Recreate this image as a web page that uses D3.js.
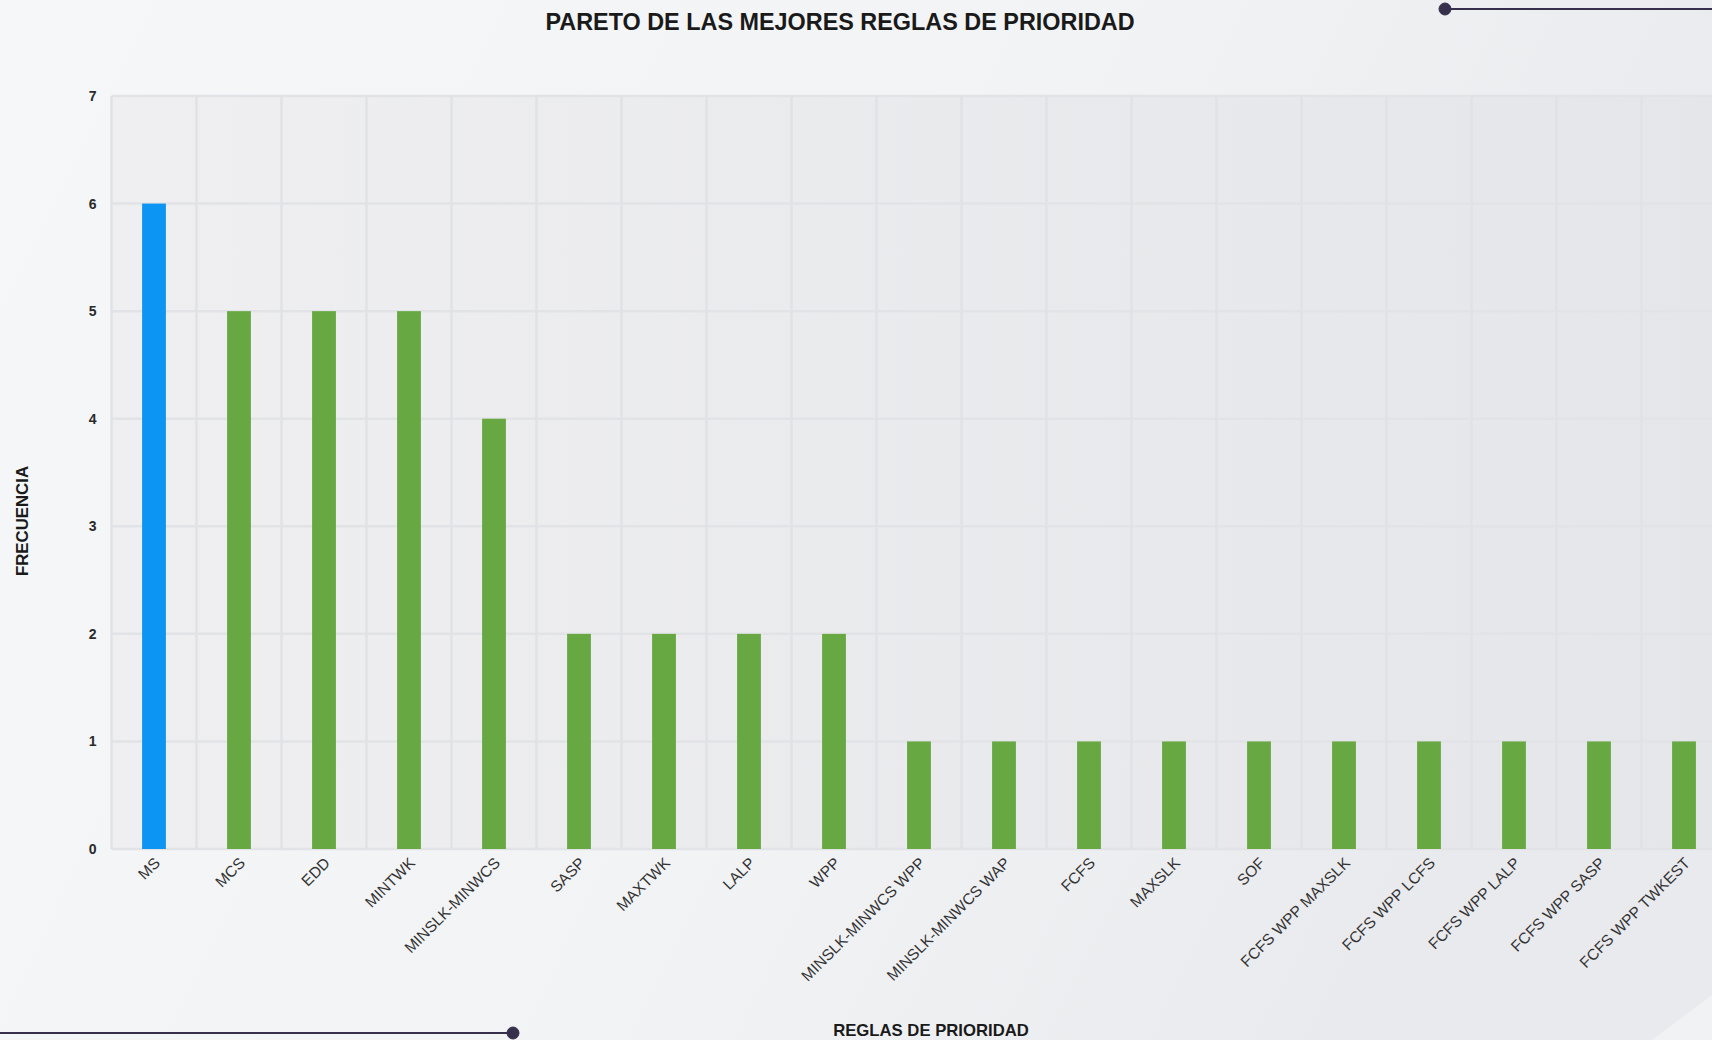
<!DOCTYPE html>
<html><head><meta charset="utf-8">
<script src="https://cdn.jsdelivr.net/npm/d3@7/dist/d3.min.js"></script>
<style>html,body{margin:0;padding:0;overflow:hidden;background:#f5f6f8;}svg{display:block;font-family:"Liberation Sans",Arial,sans-serif;}</style>
</head><body><svg id="c" width="1712" height="1040"></svg>
<script>
const categories = ["MS","MCS","EDD","MINTWK","MINSLK-MINWCS","SASP","MAXTWK","LALP","WPP","MINSLK-MINWCS WPP","MINSLK-MINWCS WAP","FCFS","MAXSLK","SOF","FCFS WPP MAXSLK","FCFS WPP LCFS","FCFS WPP LALP","FCFS WPP SASP","FCFS WPP TWKEST"];
const frecuencia = [6,5,5,5,4,2,2,2,2,1,1,1,1,1,1,1,1,1,1];
const yTicks = [0,1,2,3,4,5,6,7];
const titleText = "PARETO DE LAS MEJORES REGLAS DE PRIORIDAD";
const xTitle = "REGLAS DE PRIORIDAD";
const yTitle = "FRECUENCIA";

const W = 1712, H = 1040;
const svg = d3.select("#c");
const defs = svg.append("defs");
const bg = defs.append("linearGradient").attr("id","bg").attr("x1","0").attr("y1","0").attr("x2","1").attr("y2","0.3");
bg.append("stop").attr("offset","0").attr("stop-color","#f6f7f9");
bg.append("stop").attr("offset","0.6").attr("stop-color","#f2f3f5");
bg.append("stop").attr("offset","1").attr("stop-color","#e9eaed");
const pg = defs.append("linearGradient").attr("id","pg").attr("x1","0").attr("y1","0").attr("x2","1").attr("y2","0");
pg.append("stop").attr("offset","0").attr("stop-color","#efeff2");
pg.append("stop").attr("offset","1").attr("stop-color","#e5e6e9");

svg.append("rect").attr("width",W).attr("height",H).attr("fill","url(#bg)");
// subtle corner curve bottom-right
svg.append("path").attr("d",`M${W-60},${H} Q${W-20},${H-30} ${W},${H-45} L${W},${H} Z`).attr("fill","#f4f5f7").attr("opacity",0.7);

const x0 = 111.5, step = 85;
const x = d3.scaleBand().domain(categories).range([x0, x0 + step*categories.length]).paddingInner(0.72).paddingOuter(0.36);
const y = d3.scaleLinear().domain([0,7]).range([849, 96]);

// plot background
svg.append("rect").attr("x",x0).attr("y",y(7)).attr("width",W - x0).attr("height",y(0)-y(7)).attr("fill","url(#pg)");

// horizontal grid
svg.append("g").selectAll("line").data(yTicks).join("line")
  .attr("x1",x0).attr("x2",W).attr("y1",d=>y(d)).attr("y2",d=>y(d))
  .attr("stroke","#e2e3e6").attr("stroke-width",2.5);
// vertical grid at band boundaries
const bounds = categories.map((c,i)=> x0 + i*step);
svg.append("g").selectAll("line").data(bounds).join("line")
  .attr("x1",d=>d).attr("x2",d=>d).attr("y1",y(7)).attr("y2",y(0))
  .attr("stroke","#e1e2e5").attr("stroke-width",2.5);

// bars
svg.append("g").selectAll("rect").data(categories).join("rect")
  .attr("x",d=>x(d)).attr("width",x.bandwidth())
  .attr("y",(d,i)=>y(frecuencia[i])).attr("height",(d,i)=>y(0)-y(frecuencia[i]))
  .attr("fill",(d,i)=> i===0 ? "#0c95f2" : "#68a843");

// y axis
const ya = svg.append("g").attr("transform",`translate(${x0-12},0)`)
  .call(d3.axisLeft(y).tickValues(yTicks).tickSize(0).tickFormat(d3.format("d")));
ya.select(".domain").remove();
ya.selectAll("text").attr("fill","#2a2a2a").attr("font-size",14).attr("font-weight","bold").attr("font-family","Liberation Sans, Arial, sans-serif");

// x axis
const xa = svg.append("g").attr("transform",`translate(0,${y(0)})`)
  .call(d3.axisBottom(x).tickSize(0));
xa.select(".domain").remove();
xa.selectAll("text").attr("fill","#333").attr("font-size",15.5).attr("font-family","Liberation Sans, Arial, sans-serif")
  .attr("text-anchor","end").attr("dy",null).attr("y",0)
  .attr("transform","translate(7,15) rotate(-45)");

// titles
svg.append("text").attr("x",840).attr("y",30).attr("text-anchor","middle").attr("font-size",23.4).attr("font-weight","bold").attr("fill","#1a1a1a").text(titleText);
svg.append("text").attr("x",931).attr("y",1036).attr("text-anchor","middle").attr("font-size",16.7).attr("font-weight","bold").attr("fill","#1a1a1a").text(xTitle);
svg.append("text").attr("transform","translate(28,521) rotate(-90)").attr("text-anchor","middle").attr("font-size",16.8).attr("font-weight","bold").attr("fill","#1a1a1a").text(yTitle);

// decorative lines
const deco = svg.append("g").attr("fill","#37304d").attr("stroke","#37304d");
deco.append("line").attr("x1",1445).attr("x2",W).attr("y1",9).attr("y2",9).attr("stroke-width",2);
deco.append("circle").attr("cx",1445).attr("cy",9).attr("r",6);
deco.append("line").attr("x1",0).attr("x2",513).attr("y1",1033).attr("y2",1033).attr("stroke-width",2);
deco.append("circle").attr("cx",513).attr("cy",1033).attr("r",6);
</script></body></html>
